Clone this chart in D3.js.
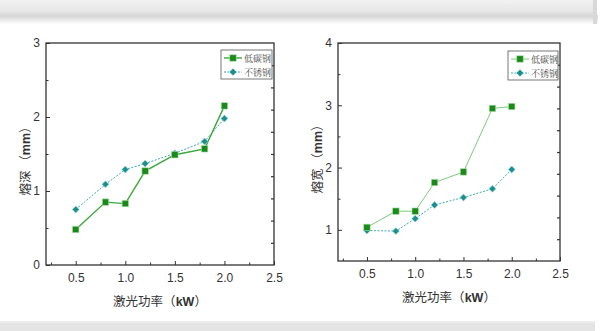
<!DOCTYPE html>
<html><head><meta charset="utf-8">
<script src="https://cdn.jsdelivr.net/npm/d3@7"></script>
<style>body{margin:0;background:#fff;} svg{display:block;}</style>
</head><body>
<svg id="c" width="600" height="331"></svg>
<script>
const power = [0.5, 0.8, 1.0, 1.2, 1.5, 1.8, 2.0];
const depthCarbon = [0.48, 0.85, 0.83, 1.27, 1.49, 1.57, 2.15];
const depthStainless = [0.75, 1.09, 1.29, 1.37, 1.51, 1.67, 1.98];
const widthCarbon = [1.04, 1.30, 1.30, 1.76, 1.93, 2.95, 2.98];
const widthStainless = [0.99, 0.98, 1.18, 1.40, 1.52, 1.66, 1.97];
const seriesNames = ["低碳钢", "不锈钢"];
const xTickLabels = ["0.5", "1.0", "1.5", "2.0", "2.5"];
const xTicks = [0.5, 1.0, 1.5, 2.0, 2.5];
const xMinor = [0.25, 0.75, 1.25, 1.75, 2.25];
const yTicksLeft = [0, 1, 2, 3];
const yMinorLeft = [0.5, 1.5, 2.5];
const yRightLeft = [0.3, 0.6, 0.9, 1.2, 1.5, 1.8, 2.1, 2.4, 2.7];
const yTicksRight = [1, 2, 3, 4];
const yMinorRight = [1.5, 2.5, 3.5];
const yRightRight = [0.85, 1.2, 1.55, 1.9, 2.25, 2.6, 2.95, 3.3, 3.65];

const svg = d3.select("#c");
const defs = svg.append("defs");
const g1 = defs.append("linearGradient").attr("id","top").attr("x1",0).attr("x2",0).attr("y1",0).attr("y2",1);
g1.append("stop").attr("offset","0%").attr("stop-color","#f2f2f2");
g1.append("stop").attr("offset","70%").attr("stop-color","#e6e6e6");
g1.append("stop").attr("offset","100%").attr("stop-color","#d6d6d6");
const g2 = defs.append("linearGradient").attr("id","sh").attr("x1",0).attr("x2",0).attr("y1",0).attr("y2",1);
g2.append("stop").attr("offset","0%").attr("stop-color","#cfcfcf");
g2.append("stop").attr("offset","100%").attr("stop-color","#ffffff");
svg.append("rect").attr("x",0).attr("y",15).attr("width",598).attr("height",9).attr("fill","url(#sh)");
svg.append("rect").attr("x",0).attr("y",0).attr("width",593).attr("height",16).attr("fill","url(#top)");
svg.append("rect").attr("x",593).attr("y",0).attr("width",4).attr("height",24).attr("fill","#d8d8d8");
svg.append("rect").attr("x",0).attr("y",323).attr("width",595).attr("height",8).attr("fill","#e4e4e4");
svg.append("rect").attr("x",0).attr("y",321).attr("width",595).attr("height",2).attr("fill","#ececec");

const diamond = d3.symbol(d3.symbolSquare, 24)();

function chart(opt){
  const {x0,x1,y0,y1,ydom,yT,yMin,yRt,yTitle,c1,c2,lineCarbon,legX,legY} = opt;
  const g = svg.append("g");
  const x = d3.scaleLinear().domain([0.2,2.5]).range([x0,x1]);
  const y = d3.scaleLinear().domain(ydom).range([y1,y0]);
  g.append("rect").attr("x",x0).attr("y",y0).attr("width",x1-x0).attr("height",y1-y0)
    .attr("fill","none").attr("stroke","#333").attr("stroke-width",1.3);
  const xa = g.append("g").attr("transform",`translate(0,${y1})`)
    .call(d3.axisBottom(x).tickValues(xTicks).tickSize(-4).tickPadding(8).tickFormat((d,i)=>xTickLabels[i]));
  xa.select(".domain").remove();
  xa.selectAll("line").attr("stroke","#333");
  xa.selectAll("text").attr("font-family","Liberation Sans, Arial, sans-serif").attr("font-size",12).attr("fill","#333");
  const xm = g.append("g").attr("transform",`translate(0,${y1})`)
    .call(d3.axisBottom(x).tickValues(xMinor).tickSize(-2.5).tickFormat(""));
  xm.select(".domain").remove(); xm.selectAll("line").attr("stroke","#333");
  const ya = g.append("g").attr("transform",`translate(${x0},0)`)
    .call(d3.axisLeft(y).tickValues(yT).tickSize(-4).tickPadding(6).tickFormat(d3.format("d")));
  ya.select(".domain").remove();
  ya.selectAll("line").attr("stroke","#333");
  ya.selectAll("text").attr("font-family","Liberation Sans, Arial, sans-serif").attr("font-size",12).attr("fill","#333");
  const ym = g.append("g").attr("transform",`translate(${x0},0)`)
    .call(d3.axisLeft(y).tickValues(yMin).tickSize(-2.5).tickFormat(""));
  ym.select(".domain").remove(); ym.selectAll("line").attr("stroke","#333");
  const yr = g.append("g").attr("transform",`translate(${x1},0)`)
    .call(d3.axisRight(y).tickValues(yRt).tickSize(-3).tickFormat(""));
  yr.select(".domain").remove(); yr.selectAll("line").attr("stroke","#333").attr("stroke-width",1.2);
  const tx = g.append("text").attr("x",(x0+x1)/2).attr("y",y1+41).attr("text-anchor","middle")
    .attr("font-family","Noto Sans CJK SC").attr("font-size",12.5).attr("fill","#333");
  tx.append("tspan").text("激光功率（");
  tx.append("tspan").attr("font-weight","bold").attr("font-family","Liberation Sans, Arial").text("kW");
  tx.append("tspan").text("）");
  const ty = g.append("text").attr("transform",`translate(${x0-16},${(y0+y1)/2+4}) rotate(-90)`)
    .attr("text-anchor","middle").attr("font-family","Noto Sans CJK SC").attr("font-size",12.5).attr("fill","#333");
  ty.append("tspan").text(yTitle+" （");
  ty.append("tspan").attr("font-weight","bold").attr("font-family","Liberation Sans, Arial").text("mm");
  ty.append("tspan").text("）");
  const line = d3.line().x((d,i)=>x(power[i])).y(d=>y(d));
  g.append("path").datum(c2).attr("d",line).attr("fill","none").attr("stroke","#3aabb0").attr("stroke-width",1).attr("stroke-dasharray","2,1.5");
  g.append("path").datum(c1).attr("d",line).attr("fill","none").attr("stroke",lineCarbon.color).attr("stroke-width",lineCarbon.w);
  g.selectAll(".dia").data(c2).enter().append("path")
    .attr("d",diamond)
    .attr("transform",(d,i)=>`translate(${x(power[i])},${y(d)}) rotate(45)`)
    .attr("fill","#1a8f8f").attr("stroke","#9fd6d6").attr("stroke-width",0.6);
  g.selectAll(".sq").data(c1).enter().append("rect")
    .attr("x",(d,i)=>x(power[i])-3.2).attr("y",d=>y(d)-3.2).attr("width",6.4).attr("height",6.4)
    .attr("fill","#1b8a1b").attr("stroke","#a6dca6").attr("stroke-width",0.6);
  const lg = g.append("g").attr("transform",`translate(${legX},${legY})`);
  lg.append("rect").attr("x",0).attr("y",0).attr("width",x1-legX-2).attr("height",29)
    .attr("fill","#fff").attr("stroke","#555").attr("stroke-width",0.8);
  lg.append("line").attr("x1",3).attr("x2",21).attr("y1",8).attr("y2",8).attr("stroke",lineCarbon.color).attr("stroke-width",lineCarbon.w);
  lg.append("rect").attr("x",8.8).attr("y",4.8).attr("width",6.4).attr("height",6.4).attr("fill","#1b8a1b").attr("stroke","#a6dca6").attr("stroke-width",0.6);
  lg.append("line").attr("x1",3).attr("x2",21).attr("y1",22).attr("y2",22).attr("stroke","#3aabb0").attr("stroke-width",1).attr("stroke-dasharray","2,1.5");
  lg.append("path").attr("d",diamond).attr("transform","translate(12,22) rotate(45)").attr("fill","#1a8f8f");
  lg.selectAll(".lt").data(seriesNames).enter().append("text")
    .attr("x",23).attr("y",(d,i)=>11.5+i*14).text(d=>d)
    .attr("font-family","Noto Serif CJK SC, Noto Sans CJK SC").attr("font-size",9).attr("fill","#444");
}

chart({x0:46,x1:274,y0:43,y1:265,ydom:[0,3],yT:yTicksLeft,yMin:yMinorLeft,yRt:yRightLeft,yTitle:"熔深",
  c1:depthCarbon,c2:depthStainless,lineCarbon:{color:"#3aa83a",w:1.4},legX:221,legY:50});
chart({x0:338,x1:560,y0:43,y1:261,ydom:[0.5,4],yT:yTicksRight,yMin:yMinorRight,yRt:yRightRight,yTitle:"熔宽",
  c1:widthCarbon,c2:widthStainless,lineCarbon:{color:"#7acc7a",w:1},legX:508,legY:51});
</script>
</body></html>
